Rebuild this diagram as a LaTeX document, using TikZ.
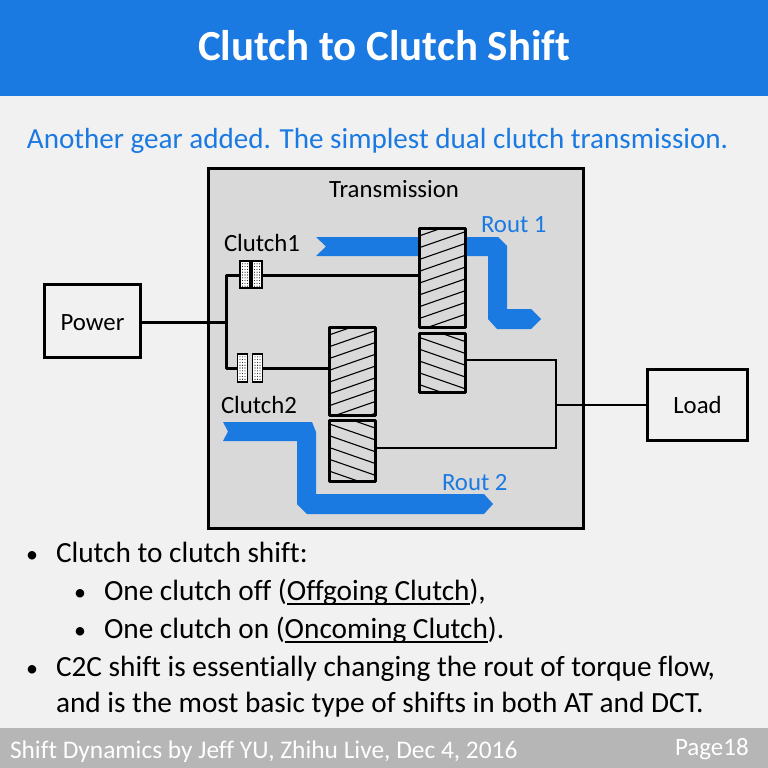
\documentclass[tikz,border=0pt]{standalone}
\usepackage{fontspec}
\setmainfont[Ligatures=NoCommon]{Carlito}
\usetikzlibrary{positioning}

\definecolor{slideblue}{HTML}{1A7AE2}
\definecolor{slidebg}{HTML}{F1F1F1}
\definecolor{boxgray}{HTML}{D9D9D9}
\definecolor{footgray}{HTML}{B6B6B6}

\newcommand{\ruledword}[1]{\setbox0=\hbox{#1}\rlap{\rule[-5pt]{\wd0}{2pt}}\box0}

\tikzset{
    x=1pt, y=-1pt,
    every node/.style={inner sep=0pt, outer sep=0pt},
    labeltext/.style={anchor=base west, font=\fontsize{24.8}{25}\selectfont},
    routtext/.style={labeltext, text=slideblue},
    bodytext/.style={anchor=base west, font=\fontsize{29.3}{30}\selectfont},
    bullettext/.style={anchor=base, font=\fontsize{24}{24}\selectfont},
    endbox/.style={draw, line width=3pt, fill=slidebg, font=\fontsize{24.8}{25}\selectfont},
    shaft/.style={line width=3pt},
    thinshaft/.style={line width=2pt},
    gearup/.style={draw, line width=3pt, fill=boxgray, line join=round, minimum width=46pt, minimum height=#1,
        path picture={\foreach \k in {0,...,10}
            \draw[line width=1.1pt] ([yshift=-\k*11.8pt-8pt]path picture bounding box.north west) --
                ([yshift=-\k*11.8pt+8pt]path picture bounding box.north east);}},
    geardown/.style={draw, line width=3pt, fill=boxgray, line join=round, minimum width=46pt, minimum height=#1,
        path picture={\foreach \k in {0,...,7}
            \draw[line width=1.1pt] ([yshift=-\k*11.8pt+8pt]path picture bounding box.north west) --
                ([yshift=-\k*11.8pt-8pt]path picture bounding box.north east);}},
    plate/.style={draw, line width=1.2pt, minimum width=10pt, minimum height=#1,
        fill=white, path picture={\foreach \i in {1,...,3}\foreach \j in {1,...,9}
            \fill[black] (path picture bounding box.north west) ++(\i*2.5,\j*2.8) circle (0.55pt);}},
}

\begin{document}
\begin{tikzpicture}
    \useasboundingbox (0,0) rectangle (768,768);
    \fill[slidebg] (0,0) rectangle (768,768);
    \fill[slideblue] (0,0) rectangle (768,96);
    \fill[footgray] (0,728) rectangle (768,768);

    \node(title) [text=white, anchor=base, font=\fontsize{42.9}{43}\selectfont\bfseries] at (384,60) {Clutch to Clutch Shift};
    \node(subtitle) [anchor=base west, text=slideblue, font=\fontsize{29.1}{30}\selectfont] at (27,148) {Another gear added. The simplest dual clutch transmission.};

    \node(transbox) [draw, line width=3.4pt, fill=boxgray, minimum width=375.5pt, minimum height=360pt] at (396,348.5) {};
    \node(translabel) [labeltext, anchor=base] at (394,197) {Transmission};

    \fill[slideblue] (316,237) -- (326,246.5) -- (316,256) -- (488,256) -- (488,319) -- (497,329) -- (531,329)
        -- (541,319) -- (531,309) -- (507,309) -- (507,246) -- (498,237) -- cycle;
    \fill[slideblue] (223,422) -- (228,431.5) -- (223,441) -- (297,441) -- (297,504) -- (307,514) -- (484,514)
        -- (493,504) -- (484,494) -- (316,494) -- (316,432) -- (312,422) -- cycle;

    \node(power) [endbox, minimum width=96pt, minimum height=73pt, text height=19pt, text depth=0pt] at (92.5,321) {Power};
    \node(load) [endbox, minimum width=100pt, minimum height=71pt] at (697.5,404.5) {Load};

    \node(gearonetop) [gearup=99pt] at (442,277.5) {};
    \node(gearonebot) [geardown=59pt, below=6.5pt of gearonetop] {};
    \node(geartwotop) [gearup=88pt] at (352,371) {};
    \node(geartwobot) [geardown=61pt, below=5pt of geartwotop] {};

    \coordinate(shaftin) at (226,322);
    \coordinate(shafttop) at (226,275);
    \coordinate(shaftbot) at (226,368);
    \coordinate(outcorner) at (556,405);
    \coordinate(onecorner) at (556,360);
    \coordinate(twocorner) at (556,448);

    \draw[shaft] (power.east |- shaftin) -- (shaftin);
    \draw[shaft, line join=round] (shafttop -| gearonetop.west) -- (shafttop) -- (shaftbot) -- (shaftbot -| geartwotop.west);
    \draw[thinshaft] (onecorner -| gearonebot.east) -- (onecorner) -- (twocorner) -- (twocorner -| geartwobot.east);
    \draw[thinshaft] (outcorner) -- (load.west |- outcorner);

    \node(clutchonea) [plate=27pt] at (245,274.5) {};
    \node(clutchoneb) [plate=27pt, right=2pt of clutchonea] {};
    \node(clutchtwoa) [plate=28pt] at (242.5,368) {};
    \node(clutchtwob) [plate=28pt, right=5pt of clutchtwoa] {};
    \fill[boxgray] (clutchtwoa.east) ++(0.6,-2) rectangle ([shift={(-0.6,2)}]clutchtwob.west);

    \node(clutchonelabel) [labeltext] at (224,251) {Clutch1};
    \node(clutchtwolabel) [labeltext] at (221,413) {Clutch2};
    \node(routone) [routtext] at (481,232) {Rout 1};
    \node(routtwo) [routtext] at (442,490) {Rout 2};

    \node(bulleta) [bullettext] at (32,562) {\textbullet};
    \node(linea) [bodytext] at (56,562) {Clutch to clutch shift:};
    \node(bulletb) [bullettext] at (80,600) {\textbullet};
    \node(lineb) [bodytext] at (104,600) {One clutch off (\ruledword{Offgoing Clutch}),};
    \node(bulletc) [bullettext] at (80,638) {\textbullet};
    \node(linec) [bodytext] at (104,638) {One clutch on (\ruledword{Oncoming Clutch}).};
    \node(bulletd) [bullettext] at (32,676) {\textbullet};
    \node(lined) [bodytext] at (56,676) {C2C shift is essentially changing the rout of torque flow,};
    \node(linee) [bodytext] at (56,712) {and is the most basic type of shifts in both AT and DCT.};

    \node(footer) [anchor=base west, text=white, font=\fontsize{25.4}{26}\selectfont] at (10,758) {Shift Dynamics by Jeff YU, Zhihu Live, Dec 4, 2016};
    \node(pagenum) [anchor=base west, text=white, font=\fontsize{25}{25}\selectfont] at (675,755) {Page18};
\end{tikzpicture}
\end{document}
